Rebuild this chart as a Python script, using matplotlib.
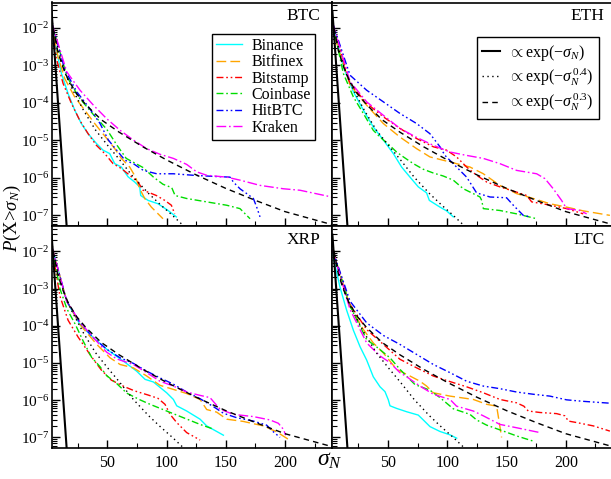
import numpy as np
import matplotlib
matplotlib.use('Agg')
import matplotlib.pyplot as plt
from matplotlib.ticker import FixedLocator, LogLocator, MultipleLocator, NullFormatter, FixedFormatter

plt.rcParams['font.family'] = ['Liberation Serif', 'DejaVu Serif']
plt.rcParams['mathtext.fontset'] = 'custom'
plt.rcParams['mathtext.rm'] = 'Liberation Serif'
plt.rcParams['mathtext.it'] = 'Liberation Serif:italic'
plt.rcParams['mathtext.bf'] = 'Liberation Serif:bold'

# ---------------- data (sigma_N, log10 P) ----------------
EXCHANGES = ['Binance', 'Bitfinex', 'Bitstamp', 'Coinbase', 'HitBTC', 'Kraken']
PANELS = ['BTC', 'ETH', 'XRP', 'LTC']

# reference curves
EXP1_S = [3.0, 16.5]
EXP1_LP = [-1.55, -7.65]
EXP04_S = [3.0, 6, 10, 15, 20, 30, 40, 50, 60, 72, 85, 95, 105, 115, 125]
EXP04_LP = [-1.85, -2.25, -2.75, -3.25, -3.6, -4.2, -4.72, -5.12, -5.5, -5.98, -6.42, -6.72, -7.0, -7.3, -7.6]
EXP03_S = [3.0, 5, 8, 12, 17, 24, 32, 45, 60, 80, 100, 125, 150, 175, 200, 240]
EXP03_LP = [-1.75, -2.1, -2.6, -3.0, -3.38, -3.75, -4.05, -4.45, -4.78, -5.17, -5.52, -5.92, -6.28, -6.6, -6.9, -7.25]

# BTC
BTC_BINANCE_S = [3, 7.0, 11.3, 16.9, 22.5, 28.1, 33.8, 40.8, 46.4, 52.0, 56.3, 61.9, 67.5, 73.1, 77.4, 78.2, 84.4, 92.8, 101.3, 108.3]
BTC_BINANCE_LP = [-1.85, -2.59, -3.21, -3.75, -4.19, -4.55, -4.82, -5.08, -5.26, -5.35, -5.62, -5.71, -5.97, -6.11, -6.24, -6.47, -6.60, -6.69, -6.87, -7.04]
BTC_BITFINEX_S = [3, 8.4, 14.1, 22.5, 30.9, 39.4, 45.0, 50.6, 56.3, 61.9, 68.9, 73.7, 77.4, 81.6, 87.2, 97.0]
BTC_BITFINEX_LP = [-1.85, -2.77, -3.35, -3.84, -4.19, -4.55, -4.77, -4.99, -5.22, -5.48, -5.71, -5.97, -6.29, -6.55, -6.78, -7.09]
BTC_BITSTAMP_S = [3, 7.0, 12.7, 19.7, 26.7, 33.8, 40.8, 47.8, 54.9, 61.9, 68.9, 75.9, 80.2, 84.4, 91.4, 98.5, 104.1, 106.9]
BTC_BITSTAMP_LP = [-1.9, -2.81, -3.48, -4.01, -4.46, -4.82, -5.13, -5.35, -5.62, -5.75, -5.93, -6.11, -6.33, -6.38, -6.47, -6.60, -6.73, -6.96]
BTC_COINBASE_S = [3, 16, 26, 38, 49.5, 58, 66, 80, 89, 97, 104.4, 107.2, 117, 133.9, 150.8, 162, 170.5]
BTC_COINBASE_LP = [-1.85, -3.3, -3.85, -4.3, -4.7, -5.12, -5.48, -5.72, -5.98, -6.17, -6.26, -6.47, -6.55, -6.64, -6.73, -6.82, -7.09]
BTC_HITBTC_S = [3, 14.3, 24.2, 34.0, 43.9, 50.9, 57.9, 65.0, 72.0, 80.4, 91.7, 105.8, 122.6, 139.5, 153.6, 156.4, 162.0, 167.7, 173.3, 176.1, 178.9]
BTC_HITBTC_LP = [-1.85, -3.12, -3.70, -4.10, -4.55, -4.99, -5.26, -5.53, -5.62, -5.80, -5.89, -5.89, -5.93, -5.96, -5.98, -6.11, -6.29, -6.42, -6.55, -6.78, -7.04]
BTC_KRAKEN_S = [3, 15.8, 27.0, 38.3, 49.5, 60.8, 72.0, 83.3, 94.5, 105.8, 117.0, 125.5, 133.9, 150.8, 162.0, 178.9, 198.6, 212.7, 239.4]
BTC_KRAKEN_LP = [-1.85, -3.17, -3.66, -4.06, -4.42, -4.73, -4.99, -5.22, -5.37, -5.48, -5.64, -5.84, -5.93, -5.98, -6.06, -6.20, -6.29, -6.33, -6.51]

# ETH
ETH_BINANCE_S = [3, 12.2, 20.7, 29.1, 37.5, 46.0, 54.4, 61.4, 68.5, 75.5, 82.5, 84.8, 93.8, 99.4, 105.0]
ETH_BINANCE_LP = [-1.85, -3.03, -3.70, -4.19, -4.64, -4.99, -5.35, -5.71, -5.98, -6.24, -6.40, -6.60, -6.78, -6.88, -7.04]
ETH_BITFINEX_S = [3, 6.6, 17.9, 31.9, 46.0, 60.0, 74.1, 85.3, 96.6, 107.8, 119.1, 130.4, 144.4, 158.5, 172.6, 186.6, 200.7, 214.7, 237.2]
ETH_BITFINEX_LP = [-1.85, -2.41, -3.52, -4.06, -4.55, -4.91, -5.22, -5.44, -5.53, -5.62, -5.71, -5.89, -6.20, -6.42, -6.55, -6.69, -6.78, -6.88, -7.00]
ETH_BITSTAMP_S = [3, 17.9, 31.9, 46.0, 60.0, 74.1, 88.2, 99.4, 107.8, 116.3, 124.7, 133.2, 144.4, 158.5, 167.0, 171.2, 183.8, 200.7, 214.7]
ETH_BITSTAMP_LP = [-1.85, -3.48, -4.01, -4.37, -4.68, -4.95, -5.17, -5.26, -5.44, -5.71, -5.93, -6.11, -6.24, -6.38, -6.47, -6.64, -6.71, -6.82, -6.96]
ETH_COINBASE_S = [3, 12.2, 20.7, 29.1, 37.5, 43.2, 50.2, 57.2, 62.9, 71.3, 79.7, 88.2, 96.6, 105.0, 113.5, 121.9, 127.6, 129.0, 130.4, 144.4, 158.5, 175.4]
ETH_COINBASE_LP = [-1.85, -3.21, -3.84, -4.28, -4.73, -4.91, -5.10, -5.31, -5.44, -5.62, -5.77, -5.87, -5.95, -6.06, -6.29, -6.42, -6.51, -6.60, -6.82, -6.87, -6.96, -7.09]
ETH_HITBTC_S = [3, 17.9, 31.9, 46.0, 60.0, 74.1, 85.3, 93.8, 98.0, 107.8, 116.3, 124.7, 136.0, 150.0, 155.7, 164.1, 169.7]
ETH_HITBTC_LP = [-1.85, -3.26, -3.66, -3.97, -4.28, -4.55, -4.82, -5.17, -5.40, -5.71, -5.98, -6.40, -6.51, -6.53, -6.73, -7.00, -7.04]
ETH_KRAKEN_S = [3, 17.9, 31.9, 46.0, 60.0, 74.1, 88.2, 102.3, 116.3, 130.4, 144.4, 158.5, 175.4, 182.4, 189.4, 196.4, 200.7, 211.9, 217.6]
ETH_KRAKEN_LP = [-1.85, -3.43, -3.97, -4.33, -4.68, -4.92, -5.13, -5.31, -5.40, -5.48, -5.62, -5.80, -5.89, -6.02, -6.29, -6.60, -6.82, -6.87, -6.96]

# XRP
XRP_BINANCE_S = [3, 15.8, 27.0, 38.3, 49.5, 63.6, 74.8, 81.9, 88.9, 100.1, 105.8, 108.6, 117.0, 128.3, 133.9, 148.0]
XRP_BINANCE_LP = [-1.85, -3.34, -3.97, -4.32, -4.63, -4.95, -5.22, -5.44, -5.51, -5.80, -5.98, -6.15, -6.29, -6.51, -6.69, -6.94]
XRP_BITFINEX_S = [3, 15.8, 27.0, 41.1, 52.3, 60.8, 72.0, 83.3, 94.5, 105.8, 117.0, 128.3, 133.9, 142.3, 150.8, 164.8, 181.7, 193.0, 202.8]
XRP_BITFINEX_LP = [-1.85, -3.34, -3.97, -4.50, -4.86, -5.04, -5.13, -5.35, -5.60, -5.71, -5.82, -5.98, -6.25, -6.32, -6.51, -6.57, -6.69, -6.85, -7.05]
XRP_BITSTAMP_S = [3, 10, 16.9, 25.3, 30.9, 36.6, 45, 53.4, 64.7, 73.1, 84.4, 92.8, 98.7, 103.0, 108.6, 117.0, 128.3]
XRP_BITSTAMP_LP = [-1.85, -3.2, -3.85, -4.30, -4.56, -4.83, -5.19, -5.46, -5.64, -5.75, -5.86, -5.95, -6.11, -6.38, -6.60, -6.87, -7.07]
XRP_COINBASE_S = [3, 10, 16, 22.8, 29.8, 36.8, 43.9, 49.5, 57.9, 66.4, 77.6, 86.1, 100.1, 114.2, 128.3, 138.1]
XRP_COINBASE_LP = [-1.85, -3.0, -3.55, -3.95, -4.42, -4.85, -5.1, -5.34, -5.55, -5.81, -5.99, -6.11, -6.29, -6.47, -6.65, -6.76]
XRP_HITBTC_S = [3, 15.8, 27.0, 38.3, 49.5, 60.8, 72.0, 83.3, 94.5, 105.8, 117.0, 128.3, 139.5, 148.0, 159.2, 173.3, 184.5, 190.2, 195.8]
XRP_HITBTC_LP = [-1.85, -3.34, -3.92, -4.32, -4.63, -4.86, -5.01, -5.22, -5.40, -5.57, -5.78, -5.96, -6.17, -6.35, -6.47, -6.56, -6.67, -6.85, -7.00]
XRP_KRAKEN_S = [3, 15.8, 27.0, 38.3, 49.5, 57.9, 72.0, 83.3, 94.5, 105.8, 117.0, 128.3, 136.7, 145.1, 156.4, 173.3, 187.3, 194.4, 198.6, 200.6]
XRP_KRAKEN_LP = [-1.85, -3.34, -3.90, -4.32, -4.71, -4.89, -5.04, -5.26, -5.49, -5.62, -5.78, -5.87, -5.93, -6.24, -6.38, -6.44, -6.53, -6.62, -6.78, -6.94]

# LTC
LTC_BINANCE_S = [3, 4.3, 9.4, 15.0, 20.7, 26.3, 31.9, 37.5, 43.2, 47.4, 50.2, 51.6, 57.2, 65.7, 75.5, 79.7, 85.4, 93.8, 102.2, 107.9]
LTC_BINANCE_LP = [-1.95, -2.24, -2.96, -3.58, -4.12, -4.56, -4.92, -5.37, -5.64, -5.77, -5.99, -6.15, -6.22, -6.31, -6.40, -6.53, -6.71, -6.84, -6.93, -7.02]
LTC_BITFINEX_S = [3, 17.9, 29.1, 37.5, 46.0, 57.2, 68.5, 76.9, 82.5, 88.2, 102.3, 122.0, 133.2, 141.6, 143.0, 145.8]
LTC_BITFINEX_LP = [-1.95, -3.47, -4.10, -4.46, -4.73, -5.17, -5.35, -5.49, -5.62, -5.80, -5.89, -5.98, -6.11, -6.16, -6.43, -7.00]
LTC_BITSTAMP_S = [3, 17.9, 31.9, 46.0, 60.0, 74.1, 88.2, 102.3, 116.3, 130.4, 144.4, 158.5, 164.6, 168.3, 178.2, 192.2, 199.3, 202.1, 209.1, 223.2, 237.2]
LTC_BITSTAMP_LP = [-1.95, -3.43, -4.10, -4.50, -4.90, -5.13, -5.35, -5.50, -5.64, -5.80, -5.98, -6.07, -6.16, -6.29, -6.33, -6.36, -6.42, -6.56, -6.60, -6.69, -6.83]
LTC_COINBASE_S = [3, 17.9, 31.9, 40.4, 51.6, 60.0, 67.1, 72.7, 85.3, 93.8, 105.0, 119.1, 124.7, 133.2, 147.3, 158.5, 172.6]
LTC_COINBASE_LP = [-1.95, -3.47, -4.37, -4.57, -4.86, -5.17, -5.40, -5.58, -5.73, -5.93, -6.23, -6.38, -6.53, -6.67, -6.83, -6.96, -7.10]
LTC_HITBTC_S = [3, 17.9, 31.9, 46.0, 60.0, 74.1, 88.2, 102.3, 116.3, 130.4, 144.4, 158.5, 172.6, 186.6, 200.7, 214.7, 237.2]
LTC_HITBTC_LP = [-1.95, -3.34, -3.92, -4.26, -4.50, -4.77, -5.04, -5.26, -5.49, -5.62, -5.69, -5.78, -5.84, -5.89, -5.99, -6.03, -6.08]
LTC_KRAKEN_S = [3, 17.9, 31.9, 43.2, 51.6, 60.0, 65.7, 76.9, 88.2, 102.3, 107.8, 121.9, 130.4, 144.4, 158.5, 178.2]
LTC_KRAKEN_LP = [-1.95, -3.56, -4.46, -4.81, -4.99, -5.26, -5.37, -5.62, -5.84, -5.98, -6.16, -6.29, -6.42, -6.65, -6.74, -6.87]

DATA = {
    'BTC': [(BTC_BINANCE_S, BTC_BINANCE_LP), (BTC_BITFINEX_S, BTC_BITFINEX_LP), (BTC_BITSTAMP_S, BTC_BITSTAMP_LP),
            (BTC_COINBASE_S, BTC_COINBASE_LP), (BTC_HITBTC_S, BTC_HITBTC_LP), (BTC_KRAKEN_S, BTC_KRAKEN_LP)],
    'ETH': [(ETH_BINANCE_S, ETH_BINANCE_LP), (ETH_BITFINEX_S, ETH_BITFINEX_LP), (ETH_BITSTAMP_S, ETH_BITSTAMP_LP),
            (ETH_COINBASE_S, ETH_COINBASE_LP), (ETH_HITBTC_S, ETH_HITBTC_LP), (ETH_KRAKEN_S, ETH_KRAKEN_LP)],
    'XRP': [(XRP_BINANCE_S, XRP_BINANCE_LP), (XRP_BITFINEX_S, XRP_BITFINEX_LP), (XRP_BITSTAMP_S, XRP_BITSTAMP_LP),
            (XRP_COINBASE_S, XRP_COINBASE_LP), (XRP_HITBTC_S, XRP_HITBTC_LP), (XRP_KRAKEN_S, XRP_KRAKEN_LP)],
    'LTC': [(LTC_BINANCE_S, LTC_BINANCE_LP), (LTC_BITFINEX_S, LTC_BITFINEX_LP), (LTC_BITSTAMP_S, LTC_BITSTAMP_LP),
            (LTC_COINBASE_S, LTC_COINBASE_LP), (LTC_HITBTC_S, LTC_HITBTC_LP), (LTC_KRAKEN_S, LTC_KRAKEN_LP)],
}

X_TICKS = [50, 100, 150, 200]
Y_TICKS = [1e-2, 1e-3, 1e-4, 1e-5, 1e-6, 1e-7]
Y_TICK_LABELS = [r'$10^{-2}$', r'$10^{-3}$', r'$10^{-4}$', r'$10^{-5}$', r'$10^{-6}$', r'$10^{-7}$']
REF_LABELS = [r'$\propto$exp($-\sigma_N$)', r'$\propto$exp($-\sigma_N^{\,0.4}$)', r'$\propto$exp($-\sigma_N^{\,0.3}$)']

# ---------------- styles ----------------
STYLES = [
    dict(color='#00ffff', ls='-'),
    dict(color='#ffa500', dashes=(7, 3)),
    dict(color='#ff0000', dashes=(5, 2, 1.2, 2, 1.2, 2)),
    dict(color='#00dd00', dashes=(5, 2, 1.2, 2)),
    dict(color='#0000ff', dashes=(5, 2, 1.2, 2, 1.2, 2)),
    dict(color='#ff00ff', dashes=(7, 2, 1.2, 2)),
]
LW = 1.0

fig = plt.figure(figsize=(6.11, 4.79), dpi=100)
W, H = 611.0, 479.0
x0, xm, x1 = 51.6, 332.4, 613.2
yt, ym, yb = 2.5, 226.0, 448.0
rects = {
    'BTC': [x0 / W, 1 - ym / H, (xm - x0) / W, (ym - yt) / H],
    'ETH': [xm / W, 1 - ym / H, (x1 - xm) / W, (ym - yt) / H],
    'XRP': [x0 / W, 1 - yb / H, (xm - x0) / W, (yb - ym) / H],
    'LTC': [xm / W, 1 - yb / H, (x1 - xm) / W, (yb - ym) / H],
}

axes = {}
for name in PANELS:
    ax = fig.add_axes(rects[name])
    axes[name] = ax
    ax.set_yscale('log')
    ax.set_xlim(3, 240)
    ax.set_ylim(5.2e-8, 4.8e-2)
    for sp in ax.spines.values():
        sp.set_linewidth(1.2)
    ax.xaxis.set_major_locator(FixedLocator(X_TICKS))
    ax.xaxis.set_minor_locator(MultipleLocator(25))
    ax.yaxis.set_major_locator(FixedLocator(Y_TICKS))
    ax.yaxis.set_minor_locator(LogLocator(base=10, subs=np.arange(2, 10)))
    ax.yaxis.set_minor_formatter(NullFormatter())
    ax.tick_params(which='both', direction='in', top=False, right=False)
    ax.tick_params(which='major', length=6, width=1.0)
    ax.tick_params(which='minor', length=3.5, width=0.8)
    ax.tick_params(axis='x', labelsize=11.5, pad=5)
    ax.tick_params(axis='y', labelsize=11, pad=1.5)
    if name in ('BTC', 'XRP'):
        ax.yaxis.set_major_formatter(FixedFormatter(Y_TICK_LABELS))
    else:
        ax.set_yticklabels([])
    if name in ('XRP', 'LTC'):
        ax.set_xticklabels([str(t) for t in X_TICKS])
    else:
        ax.set_xticklabels([])

    handles = []
    for (s, lp), ex, st in zip(DATA[name], EXCHANGES, STYLES):
        h, = ax.plot(s, 10 ** np.array(lp), lw=LW, label=ex, **st)
        handles.append(h)
    r1, = ax.plot(EXP1_S, 10 ** np.array(EXP1_LP), color='black', lw=1.5, ls='-')
    r2, = ax.plot(EXP04_S, 10 ** np.array(EXP04_LP), color='black', lw=1.0, dashes=(1, 2.5))
    r3, = ax.plot(EXP03_S, 10 ** np.array(EXP03_LP), color='black', lw=1.0, dashes=(4, 3))

    tx = 0.958 if name in ('BTC', 'XRP') else 0.97
    ax.text(tx, 0.975, name, transform=ax.transAxes, ha='right', va='top', fontsize=12.5)

    if name == 'BTC':
        leg = ax.legend(handles=handles, loc='upper right', bbox_to_anchor=(0.938, 0.859),
                        fontsize=11.5, frameon=True, fancybox=False, edgecolor='black',
                        framealpha=1, labelspacing=0.02, handlelength=1.6, handletextpad=0.6,
                        borderpad=0.25, borderaxespad=0)
        leg.get_frame().set_linewidth(1.0)
    if name == 'ETH':
        leg = ax.legend(handles=[r1, r2, r3], labels=REF_LABELS, loc='upper right',
                        bbox_to_anchor=(0.949, 0.846), fontsize=11.5, frameon=True,
                        fancybox=False, edgecolor='black', framealpha=1, labelspacing=0.25,
                        handlelength=1.1, handletextpad=0.5, borderpad=0.35, borderaxespad=0)
        leg.get_frame().set_linewidth(1.0)

fig.text(12 / W, 1 - 218 / H, r'$P$(X>$\sigma_N$)', rotation=90, ha='center', va='center', fontsize=13.5)
fig.text(330 / W, 1 - 466 / H, r'$\sigma_N$', ha='center', va='baseline', fontsize=17)

fig.savefig('out.png', dpi=100)
